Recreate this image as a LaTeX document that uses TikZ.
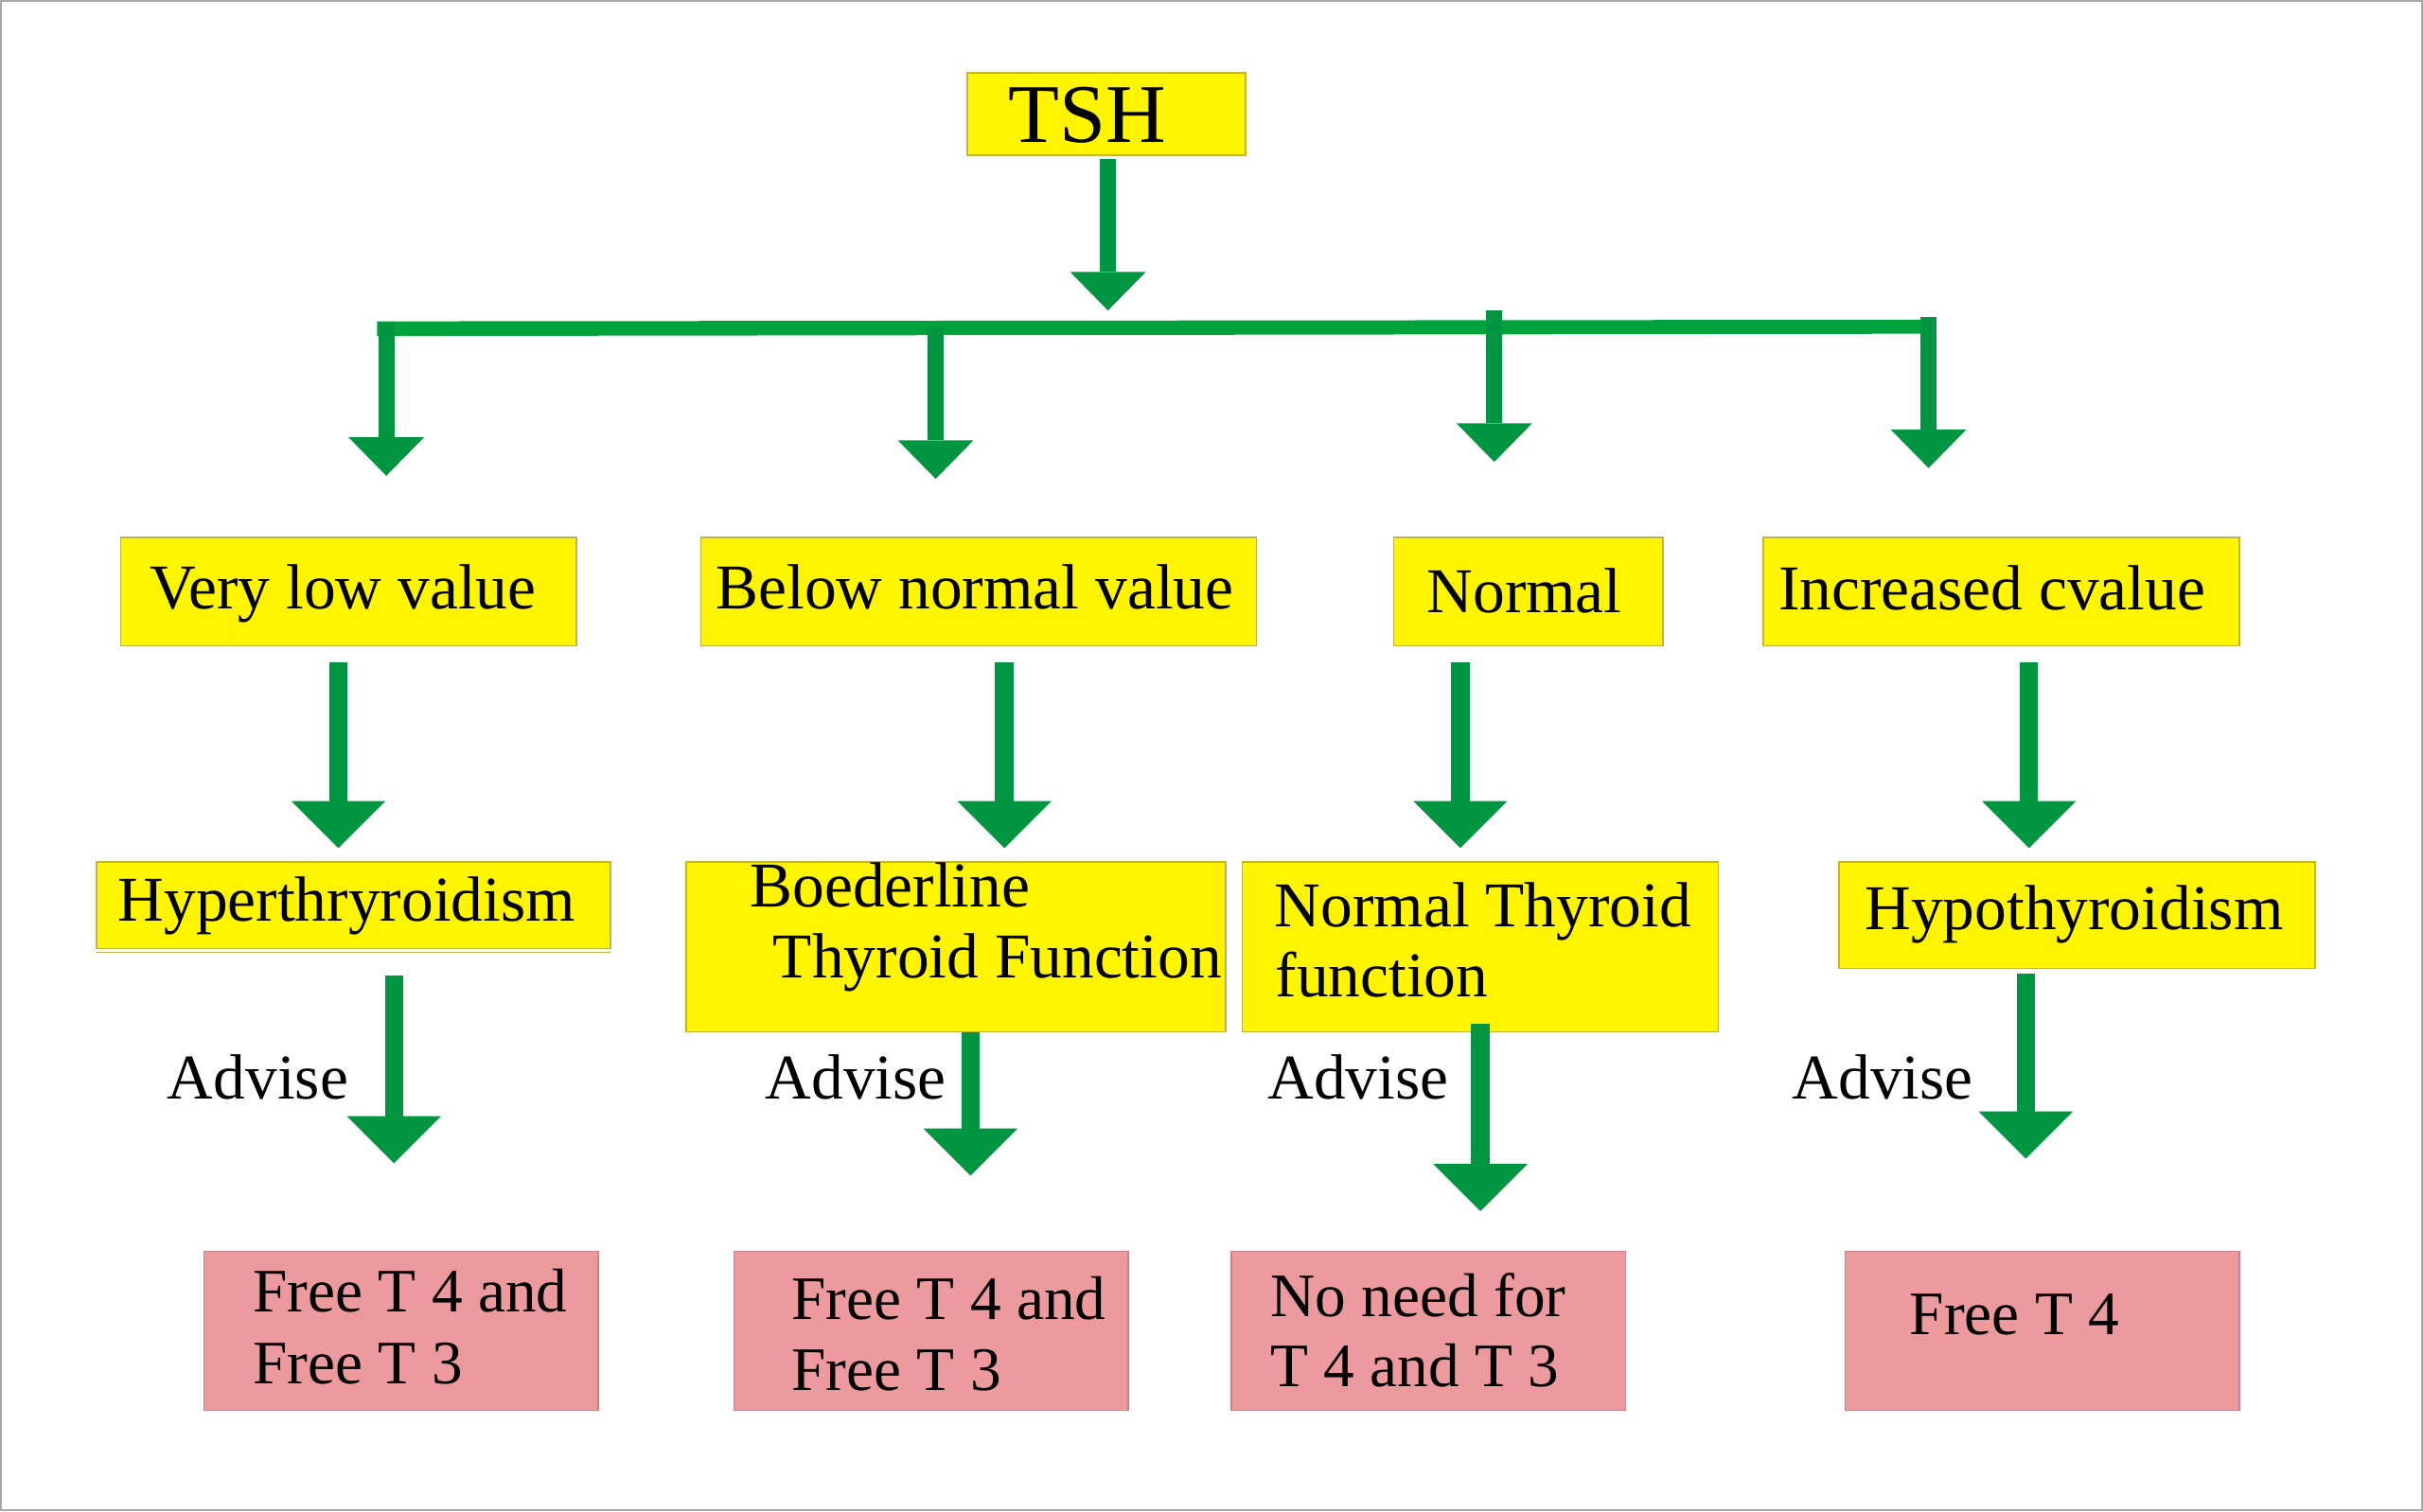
\documentclass[tikz,border=0pt]{standalone}
\usepackage{fontspec}
\setmainfont{Liberation Serif}
\usetikzlibrary{arrows.meta}
\definecolor{yfill}{HTML}{FFF500}
\definecolor{yline}{HTML}{C2B43A}
\definecolor{pfill}{HTML}{EC9A9E}
\definecolor{pline}{HTML}{C98286}
\definecolor{agreen}{HTML}{009541}
\definecolor{bgreen}{HTML}{00A33B}
\definecolor{framegray}{HTML}{A8A8A8}
\tikzset{
  ybox/.style={draw=yline, fill=yfill, line width=0.5pt, inner sep=0pt, outer sep=0pt},
  pbox/.style={draw=pline, fill=pfill, line width=0.5pt, inner sep=0pt, outer sep=0pt},
  txt/.style={inner sep=0pt, anchor=base west, font=\fontsize{20.65pt}{24pt}\selectfont},
  ptxt/.style={inner sep=0pt, anchor=base west, font=\fontsize{20pt}{23pt}\selectfont},
  bigarrow/.style={draw=agreen, line width=6pt, -{Triangle[width=30.5pt,length=15.25pt,line width=0pt]}},
  toparrow/.style={draw=agreen, line width=5.25pt, -{Triangle[width=24.5pt,length=12.5pt,line width=0pt]}},
}
\begin{document}
\begin{tikzpicture}[x=0.5pt,y=-0.5pt]
\useasboundingbox (0,0) rectangle (1568,978.2);
\draw[framegray, line width=0.6pt] (0.7,0.7) rectangle (1567.3,977.5);

% level 0
\node[ybox, minimum width=90pt, minimum height=26.75pt] (tsh) at (716,73.75) {};
\node[inner sep=0pt, anchor=base west, font=\fontsize{27pt}{30pt}\selectfont] (tsht) at (652,92) {TSH};

% level 1
\node[ybox, minimum width=147.5pt, minimum height=35pt] (vl) at (225.5,383) {};
\node[ybox, minimum width=179.75pt, minimum height=35pt] (bn) at (633.25,383) {};
\node[ybox, minimum width=87pt, minimum height=35pt] (nm) at (989,383) {};
\node[ybox, minimum width=154pt, minimum height=35pt] (ic) at (1295,383) {};
\node[txt] (vlt) at (96.5,394) {Very low value};
\node[txt] (bnt) at (463,394) {Below normal value};
\node[txt] (nmt) at (923,396.5) {Normal};
\node[txt] (ict) at (1150.5,395) {Increased cvalue};

% level 2
\node[ybox, minimum width=166.25pt, minimum height=28pt] (hy) at (228.75,586) {};
\draw[yline, line width=0.5pt] (hy.south west) ++(0,2.5) coordinate (hyl) -- (hyl -| hy.south east);
\node[ybox, minimum width=174.5pt, minimum height=55pt] (bd) at (618.5,613) {};
\node[ybox, minimum width=154pt, minimum height=55pt] (nt) at (958,613) {};
\node[ybox, minimum width=154pt, minimum height=34.5pt] (ho) at (1344,592.5) {};
\node[txt] (hyt) at (76,596) {Hyperthryroidism};
\node[txt] (bdt1) at (485,587) {Boederline};
\node[txt] (bdt2) at (500,633) {Thyroid Function};
\node[txt] (ntt1) at (824.5,600) {Normal Thyroid};
\node[txt] (ntt2) at (825,645.5) {function};
\node[txt] (hot) at (1206.5,602) {Hypothyroidism};

% advise labels
\node[txt] (ad1) at (108,711.7) {Advise};
\node[txt] (ad2) at (495,711.7) {Advise};
\node[txt] (ad3) at (820,711.7) {Advise};
\node[txt] (ad4) at (1159.5,711.7) {Advise};

% level 3
\node[pbox, minimum width=127.5pt, minimum height=51.5pt] (p1) at (259.5,861.5) {};
\node[pbox, minimum width=127.5pt, minimum height=51.5pt] (p2) at (602.5,861.5) {};
\node[pbox, minimum width=127.5pt, minimum height=51.5pt] (p3) at (924.5,861.5) {};
\node[pbox, minimum width=127.5pt, minimum height=51.5pt] (p4) at (1321.5,861.5) {};
\node[ptxt] (p1a) at (163.5,849.5) {Free T 4 and};
\node[ptxt] (p1b) at (163.5,895.5) {Free T 3};
\node[ptxt] (p2a) at (512,854) {Free T 4 and};
\node[ptxt] (p2b) at (512,900) {Free T 3};
\node[ptxt] (p3a) at (822,852.4) {No need for};
\node[ptxt] (p3b) at (822,897.6) {T 4 and T 3};
\node[ptxt] (p4a) at (1235.5,864) {Free T 4};

% horizontal bar
\coordinate (barl) at (244,212.75);
\coordinate (barr) at (1253,211.5);
\fill[bgreen] (244,208) -- (1253,207) -- (1253,216) -- (244,217.5) -- cycle;

% arrow coordinates
\coordinate (t0s) at (717,103);   \coordinate (t0e) at (717,201);
\coordinate (d1s) at (250,208);   \coordinate (d1e) at (250,308);
\coordinate (d2s) at (605.5,212); \coordinate (d2e) at (605.5,310);
\coordinate (d3s) at (967,201);   \coordinate (d3e) at (967,299);
\coordinate (d4s) at (1248,205);  \coordinate (d4e) at (1248,303);
\coordinate (m1s) at (219,429);   \coordinate (m1e) at (219,549);
\coordinate (m2s) at (650,429);   \coordinate (m2e) at (650,549);
\coordinate (m3s) at (945,429);   \coordinate (m3e) at (945,549);
\coordinate (m4s) at (1313,429);  \coordinate (m4e) at (1313,549);
\coordinate (b1s) at (255,631.5); \coordinate (b1e) at (255,753);
\coordinate (b2e) at (628,761);
\coordinate (b3s) at (958,663);   \coordinate (b3e) at (958,784);
\coordinate (b4s) at (1311,630);  \coordinate (b4e) at (1311,750);

\draw[toparrow] (t0s) -- (t0e);
\draw[toparrow] (d1s) -- (d1e);
\draw[toparrow] (d2s) -- (d2e);
\draw[toparrow] (d3s) -- (d3e);
\draw[toparrow] (d4s) -- (d4e);
\draw[bigarrow] (m1s) -- (m1e);
\draw[bigarrow] (m2s) -- (m2e);
\draw[bigarrow] (m3s) -- (m3e);
\draw[bigarrow] (m4s) -- (m4e);
\draw[bigarrow] (b1s) -- (b1e);
\draw[bigarrow] (bd.south -| b2e) -- (b2e);
\draw[bigarrow] (b3s) -- (b3e);
\draw[bigarrow] (b4s) -- (b4e);
\end{tikzpicture}
\end{document}
